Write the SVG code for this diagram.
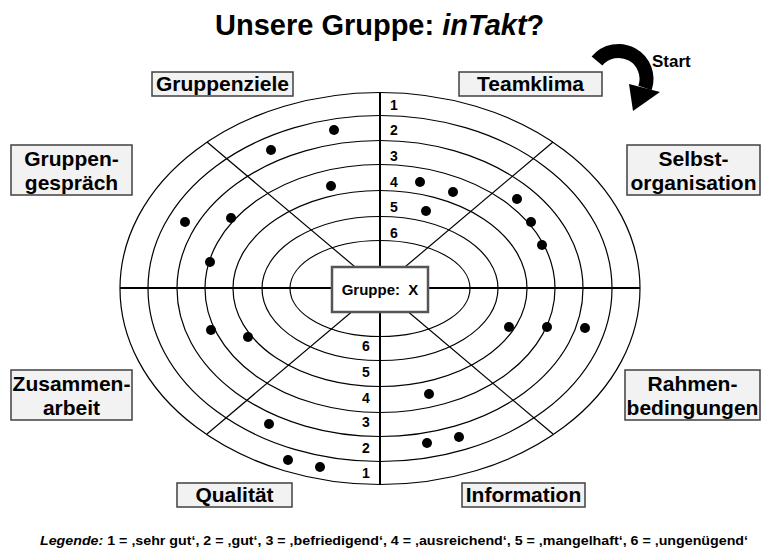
<svg xmlns="http://www.w3.org/2000/svg" width="763" height="555" viewBox="0 0 763 555">
<style>
.t{font-family:"Liberation Sans",Arial,sans-serif;font-weight:bold;fill:#000}
.lbl{font-size:21px;text-anchor:middle}
.num{font-size:14px;text-anchor:middle}
.box{fill:#f2f2f2;stroke:#404040;stroke-width:1.5}
.ring{fill:none;stroke:#000;stroke-width:1.2}
.dot{fill:#000}
</style>
<rect width="763" height="555" fill="#fff"/>
<text class="t" x="215" y="35" font-size="29">Unsere Gruppe: <tspan font-style="italic">inTakt</tspan>?</text>
<g id="rings">
<ellipse class="ring" cx="380" cy="288.5" rx="260" ry="196"/>
<ellipse class="ring" cx="380" cy="288.5" rx="232" ry="173"/>
<ellipse class="ring" cx="380" cy="288.5" rx="203" ry="148"/>
<ellipse class="ring" cx="380" cy="288.5" rx="175" ry="124"/>
<ellipse class="ring" cx="380" cy="288.5" rx="147" ry="98"/>
<ellipse class="ring" cx="380" cy="288.5" rx="118" ry="72"/>
<ellipse class="ring" cx="380" cy="288.5" rx="90" ry="48"/>
</g>
<g id="connectors" stroke="#000" fill="none">
<line x1="380" y1="288" x2="207" y2="142" stroke-width="1.2"/>
<line x1="380" y1="288" x2="553" y2="142" stroke-width="1.2"/>
<line x1="380" y1="288" x2="207" y2="434" stroke-width="1.2"/>
<line x1="380" y1="288" x2="553" y2="434" stroke-width="1.2"/>
<line x1="380" y1="92" x2="380" y2="485" stroke-width="2"/>
<line x1="120" y1="288" x2="640" y2="288" stroke-width="2"/>
</g>
<g id="scale-top">
<text class="t num" x="394" y="110">1</text>
<text class="t num" x="394" y="135">2</text>
<text class="t num" x="394" y="161">3</text>
<text class="t num" x="394" y="187">4</text>
<text class="t num" x="394" y="212">5</text>
<text class="t num" x="394" y="238">6</text>
</g>
<g id="scale-bottom">
<text class="t num" x="366" y="351">6</text>
<text class="t num" x="366" y="377">5</text>
<text class="t num" x="366" y="403">4</text>
<text class="t num" x="366" y="427">3</text>
<text class="t num" x="366" y="453">2</text>
<text class="t num" x="366" y="478">1</text>
</g>
<g id="dots">
<circle class="dot" cx="334" cy="130" r="5"/>
<circle class="dot" cx="271" cy="150" r="5"/>
<circle class="dot" cx="331" cy="186" r="5"/>
<circle class="dot" cx="231" cy="218" r="5"/>
<circle class="dot" cx="185" cy="222" r="5"/>
<circle class="dot" cx="210" cy="262" r="5"/>
<circle class="dot" cx="420" cy="182" r="5"/>
<circle class="dot" cx="453" cy="192" r="5"/>
<circle class="dot" cx="426" cy="211" r="5"/>
<circle class="dot" cx="517" cy="199" r="5"/>
<circle class="dot" cx="531" cy="222" r="5"/>
<circle class="dot" cx="542" cy="245" r="5"/>
<circle class="dot" cx="509" cy="327" r="5"/>
<circle class="dot" cx="547" cy="327" r="5"/>
<circle class="dot" cx="585" cy="328" r="5"/>
<circle class="dot" cx="211" cy="330" r="5"/>
<circle class="dot" cx="248" cy="337" r="5"/>
<circle class="dot" cx="429" cy="394" r="5"/>
<circle class="dot" cx="427" cy="443" r="5"/>
<circle class="dot" cx="459" cy="437" r="5"/>
<circle class="dot" cx="269" cy="424" r="5"/>
<circle class="dot" cx="288" cy="460" r="5"/>
<circle class="dot" cx="320" cy="467" r="5"/>
</g>
<g id="center">
<rect x="332" y="267" width="96" height="45" fill="#fff" stroke="#555" stroke-width="2.5"/>
<text class="t" x="380" y="295" font-size="15" text-anchor="middle" xml:space="preserve">Gruppe:  X</text>
</g>
<g id="gruppenziele">
<rect class="box" x="152" y="72" width="141" height="24"/>
<text class="t lbl" x="222.5" y="91">Gruppenziele</text>
</g>
<g id="teamklima">
<rect class="box" x="459" y="72" width="143" height="24"/>
<text class="t lbl" x="530.5" y="91">Teamklima</text>
</g>
<g id="gruppengespraech">
<rect class="box" x="11" y="145" width="121" height="50"/>
<text class="t lbl" x="71.5" y="166">Gruppen-</text>
<text class="t lbl" x="71.5" y="190">gespräch</text>
</g>
<g id="selbstorganisation">
<rect class="box" x="627" y="145" width="133" height="50"/>
<text class="t lbl" x="693.5" y="166">Selbst-</text>
<text class="t lbl" x="693.5" y="190">organisation</text>
</g>
<g id="zusammenarbeit">
<rect class="box" x="11" y="370" width="121" height="50"/>
<text class="t lbl" x="71.5" y="391">Zusammen-</text>
<text class="t lbl" x="71.5" y="415">arbeit</text>
</g>
<g id="rahmenbedingungen">
<rect class="box" x="625" y="370" width="135" height="50"/>
<text class="t lbl" x="692.5" y="391">Rahmen-</text>
<text class="t lbl" x="692.5" y="415">bedingungen</text>
</g>
<g id="qualitaet">
<rect class="box" x="177" y="483" width="115" height="24"/>
<text class="t lbl" x="234.5" y="502">Qualität</text>
</g>
<g id="information">
<rect class="box" x="462" y="483" width="123" height="24"/>
<text class="t lbl" x="523.5" y="502">Information</text>
</g>
<g id="start">
<path d="M597,61 A28,28 0 0 1 645,88" fill="none" stroke="#000" stroke-width="14"/>
<polygon points="660,92 629,84 633,111" fill="#000"/>
<text class="t" x="652" y="67" font-size="17">Start</text>
</g>
<text class="t" x="40" y="545" font-size="12" textLength="708" lengthAdjust="spacingAndGlyphs"><tspan font-style="italic">Legende:</tspan> 1 = ‚sehr gut‘, 2 = ‚gut‘, 3 = ‚befriedigend‘, 4 = ‚ausreichend‘, 5 = ‚mangelhaft‘, 6 = ‚ungenügend‘</text>
</svg>
